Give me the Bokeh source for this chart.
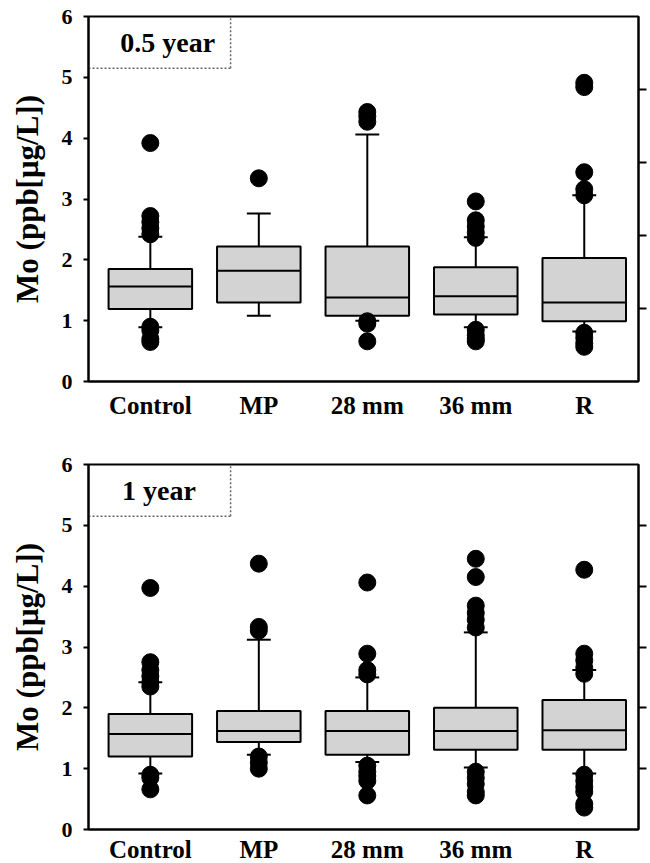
from bokeh.plotting import figure
from bokeh.models import ColumnDataSource, FixedTicker, LinearAxis, Range1d, CustomJSTickFormatter
from bokeh.layouts import column
from bokeh.embed import file_html
from bokeh.resources import INLINE
from bokeh.core.properties import value

categories = ["Control", "MP", "28 mm", "36 mm", "R"]

# Panel 1: 0.5 year
q1_a = [1.19, 1.30, 1.08, 1.10, 0.99]
med_a = [1.56, 1.82, 1.38, 1.40, 1.30]
q3_a = [1.85, 2.22, 2.22, 1.88, 2.03]
wlo_a = [0.89, 1.08, 1.00, 0.89, 0.82]
whi_a = [2.38, 2.76, 4.06, 2.37, 3.06]
out_a = [
    [3.92, 2.72, 2.62, 2.52, 2.42, 0.90, 0.84, 0.70, 0.65],
    [3.34],
    [4.43, 4.36, 4.27, 0.99, 0.95, 0.66],
    [2.96, 2.65, 2.55, 2.45, 2.36, 0.85, 0.76, 0.70, 0.66],
    [4.91, 4.84, 3.44, 3.16, 3.06, 0.80, 0.72, 0.63, 0.57],
]

# Panel 2: 1 year
q1_b = [1.20, 1.44, 1.23, 1.31, 1.31]
med_b = [1.57, 1.62, 1.62, 1.62, 1.63]
q3_b = [1.90, 1.95, 1.95, 2.00, 2.13]
wlo_b = [0.92, 1.23, 1.11, 1.02, 0.92]
whi_b = [2.42, 3.12, 2.50, 3.24, 2.62]
out_b = [
    [3.97, 2.75, 2.62, 2.52, 2.42, 2.35, 0.90, 0.85, 0.66],
    [4.37, 3.33, 3.27, 1.20, 1.10, 1.00],
    [4.06, 2.89, 2.62, 2.55, 1.05, 0.95, 0.88, 0.80, 0.56],
    [4.45, 4.15, 3.68, 3.56, 3.45, 3.32, 0.95, 0.85, 0.75, 0.62, 0.56],
    [4.27, 2.89, 2.78, 2.66, 2.56, 0.90, 0.80, 0.70, 0.62, 0.42, 0.36],
]

y_ticks = [0, 1, 2, 3, 4, 5, 6]
right_ticks_a = [1.2, 2.4, 3.6, 4.8]
right_ticks_b = [1, 2, 3, 4, 5]
labels = ["0.5 year", "1 year"]

FONT = "Liberation Serif"
BOX_W = 0.77
CAP_W = 0.22


def make_panel(q1, med, q3, wlo, whi, outs, right_ticks, label, label_x, top_border, bottom_border, standoff):
    p = figure(frame_width=550, frame_height=365, output_backend="svg", toolbar_location=None,
               x_range=Range1d(-0.57, 4.5), y_range=Range1d(0, 6),
               min_border_left=88, min_border_right=12, min_border_top=top_border,
               min_border_bottom=bottom_border)
    p.grid.visible = False
    p.outline_line_color = "black"
    p.outline_line_width = 2
    p.background_fill_color = "white"
    p.border_fill_color = "white"

    xs = list(range(len(categories)))
    src = ColumnDataSource(dict(
        x=xs,
        left=[x - BOX_W / 2 for x in xs], right=[x + BOX_W / 2 for x in xs],
        q1=q1, med=med, q3=q3, wlo=wlo, whi=whi,
        cl=[x - CAP_W / 2 for x in xs], cr=[x + CAP_W / 2 for x in xs],
    ))
    p.segment(x0="x", y0="q3", x1="x", y1="whi", source=src, line_color="black", line_width=2)
    p.segment(x0="x", y0="wlo", x1="x", y1="q1", source=src, line_color="black", line_width=2)
    p.segment(x0="cl", y0="whi", x1="cr", y1="whi", source=src, line_color="black", line_width=2)
    p.segment(x0="cl", y0="wlo", x1="cr", y1="wlo", source=src, line_color="black", line_width=2)
    p.quad(left="left", right="right", bottom="q1", top="q3", source=src,
           fill_color="#d3d3d3", line_color="black", line_width=2)
    p.segment(x0="left", y0="med", x1="right", y1="med", source=src, line_color="black", line_width=2)
    ox, oy = [], []
    for i, vals in enumerate(outs):
        for v in vals:
            ox.append(i)
            oy.append(v)
    p.scatter(x=ox, y=oy, size=17, fill_color="black", line_color="black")

    p.segment(x0=[-0.57, 0.74], y0=[5.15, 5.15], x1=[0.74, 0.74], y1=[5.15, 6.0],
              line_color="#666666", line_width=1.5, line_dash="2 2")
    p.text(x=[label_x], y=[5.57], text=[label], text_font=value(FONT), text_font_style="bold",
           text_font_size="28px", text_align="center", text_baseline="middle", text_color="black")

    p.xaxis.ticker = FixedTicker(ticks=xs)
    p.xaxis.major_label_overrides = {i: c for i, c in enumerate(categories)}
    p.xaxis.major_tick_in = 0
    p.xaxis.major_tick_out = 0
    p.xaxis.minor_tick_line_color = None
    p.xaxis.axis_line_width = 2
    p.xaxis.major_label_standoff = standoff
    p.xaxis.major_label_text_font = FONT
    p.xaxis.major_label_text_font_style = "bold"
    p.xaxis.major_label_text_font_size = "25px"
    p.xaxis.major_label_text_color = "black"

    p.yaxis.ticker = FixedTicker(ticks=y_ticks)
    p.yaxis.major_tick_in = 0
    p.yaxis.major_tick_out = 5
    p.yaxis.major_tick_line_width = 2
    p.yaxis.minor_tick_line_color = None
    p.yaxis.axis_line_width = 2
    p.yaxis.major_label_standoff = 11
    p.yaxis.major_label_text_font = FONT
    p.yaxis.major_label_text_font_style = "bold"
    p.yaxis.major_label_text_font_size = "22px"
    p.yaxis.major_label_text_color = "black"
    p.yaxis.axis_label = "Mo (ppb[\u03bcg/L])"
    p.yaxis.axis_label_text_font = FONT
    p.yaxis.axis_label_text_font_style = "bold"
    p.yaxis.axis_label_text_font_size = "31px"
    p.yaxis.axis_label_text_color = "black"
    p.yaxis.axis_label_standoff = 14

    ra = LinearAxis(ticker=FixedTicker(ticks=right_ticks),
                    formatter=CustomJSTickFormatter(code="return ''"))
    ra.major_tick_in = 0
    ra.major_tick_out = 8
    ra.major_tick_line_width = 2
    ra.minor_tick_line_color = None
    ra.axis_line_width = 2
    ra.major_label_text_font_size = "1px"
    ra.major_label_standoff = 0
    p.add_layout(ra, "right")
    return p


p1 = make_panel(q1_a, med_a, q3_a, wlo_a, whi_a, out_a, right_ticks_a, labels[0], 0.16, 16, 50, 10)
p2 = make_panel(q1_b, med_b, q3_b, wlo_b, whi_b, out_b, right_ticks_b, labels[1], 0.08, 33, 30, 6)

layout = column(p1, p2)
open("out.html", "w").write(file_html(layout, INLINE))
